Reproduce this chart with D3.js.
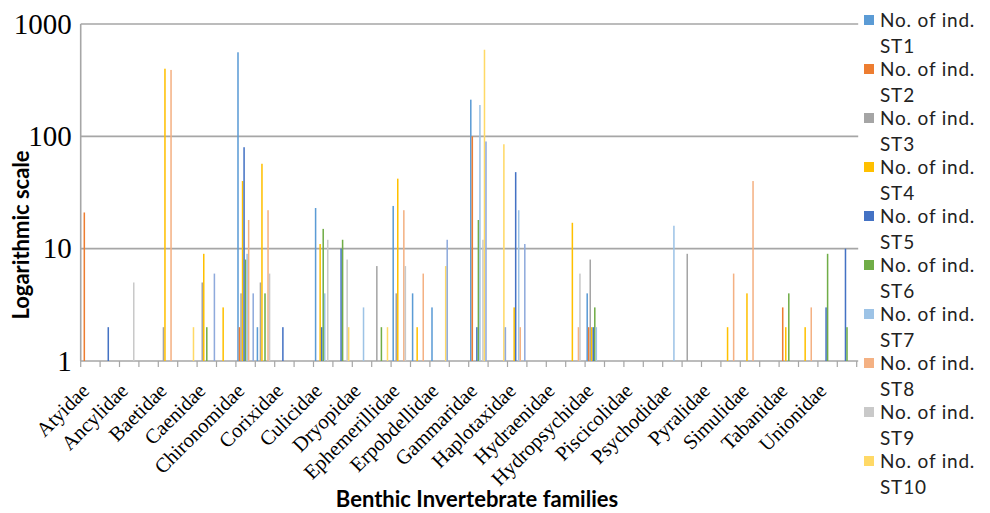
<!DOCTYPE html>
<html>
<head>
<meta charset="utf-8">
<script src="https://cdn.jsdelivr.net/npm/d3@7"></script>
<style>
  body { margin: 0; background: #ffffff; }
  svg { display: block; }
</style>
</head>
<body>
<svg id="chart" width="990" height="513"></svg>
<script>
// Category axis: 40 slots, only every other slot carries a printed label
const familyLabels = [
  "Atyidae", "", "Ancylidae", "", "Baetidae", "", "Caenidae", "", "Chironomidae", "",
  "Corixidae", "", "Culicidae", "", "Dryopidae", "", "Ephemerillidae", "", "Erpobdellidae", "",
  "Gammaridae", "", "Haplotaxidae", "", "Hydraenidae", "", "Hydropsychidae", "", "Piscicolidae", "",
  "Psychodidae", "", "Pyralidae", "", "Simulidae", "", "Tabanidae", "", "Unionidae", ""
];

const stations = ["ST1", "ST2", "ST3", "ST4", "ST5", "ST6", "ST7", "ST8", "ST9", "ST10", "ST11"];
const stationColors = ["#5b9bd5", "#ed7d31", "#a5a5a5", "#ffc000", "#4472c4", "#70ad47",
                       "#9dc3e6", "#f4b183", "#c9c9c9", "#ffd966", "#8faadc"];

const yTickValues = [1, 10, 100, 1000];

// Number of individuals per family slot (null = none recorded)
const _ = null;
const st1  = [_,_,_,_,_,_,_,_,560,2,  _,_,23,_,_,_,24,4,3,_,   212,_,_,_,_,_,4,_,_,_,  _,_,_,_,_,_,_,_,_,_];
const st2  = [21,_,_,_,_,_,_,_,2,_,   _,_,_,_,_,_,_,_,_,_,     100,_,_,_,_,_,2,_,_,_,  _,_,_,_,_,_,3,_,_,_];
const st3  = [_,_,_,_,2,_,5,_,4,5,    _,_,_,_,_,7,4,_,_,_,     _,_,_,_,_,_,8,_,_,_,    _,9,_,_,_,_,_,_,_,_];
const st4  = [_,_,_,_,400,_,9,3,40,57, _,_,11,_,_,_,42,2,_,_,  _,_,3,_,_,17,2,_,_,_,   _,_,_,2,4,_,2,2,_,_];
const st5  = [_,2,_,_,_,_,_,_,80,_,   2,_,2,10,_,_,_,_,_,_,    2,_,48,_,_,_,2,_,_,_,   _,_,_,_,_,_,_,_,3,10];
const st6  = [_,_,_,_,_,_,2,_,8,4,    _,_,15,12,_,2,_,_,_,_,   18,_,_,_,_,_,3,_,_,_,   _,_,_,_,_,_,4,_,9,2];
const st7  = [_,_,_,_,_,_,_,_,9,_,    _,_,4,_,3,_,_,_,_,_,     190,_,22,_,_,_,2,_,_,_, 16,_,_,_,_,_,_,_,_,_];
const st8  = [_,_,_,_,390,_,_,_,18,22, _,_,_,_,_,_,22,6,_,_,   _,_,2,_,_,2,_,_,_,_,    _,_,_,6,40,_,_,3,_,_];
const st9  = [_,_,5,_,_,_,_,_,_,6,    _,_,12,8,_,_,7,_,_,_,    12,_,_,_,_,6,_,_,_,_,   _,_,_,_,_,_,_,_,_,_];
const st10 = [_,_,_,_,_,2,_,_,_,_,    _,_,_,2,_,2,_,_,7,_,     590,85,_,_,_,_,_,_,_,_, _,_,_,_,_,_,_,_,_,_];
const st11 = [_,_,_,_,_,_,6,_,4,_,    _,_,_,_,_,_,_,_,12,_,    90,2,11,_,_,_,_,_,_,_,  _,_,_,_,_,_,_,_,_,_];

const seriesValues = [st1, st2, st3, st4, st5, st6, st7, st8, st9, st10, st11];

const W = 990, H = 513;
const plot = { left: 80.7, right: 856.7, top: 24, bottom: 361 };

const svg = d3.select("#chart");

const x0 = d3.scaleBand()
  .domain(d3.range(familyLabels.length))
  .range([plot.left, plot.right])
  .paddingInner(0.138)
  .paddingOuter(0.069);

const x1 = d3.scaleBand()
  .domain(d3.range(stations.length))
  .range([0, x0.bandwidth()]);

const y = d3.scaleLog()
  .domain([1, 1000])
  .range([plot.bottom, plot.top]);

const gridColor = "#a6a6a6";

// Horizontal gridlines
svg.append("g")
  .selectAll("line")
  .data(yTickValues)
  .join("line")
  .attr("x1", plot.left)
  .attr("x2", plot.right + 1.5)
  .attr("y1", d => y(d))
  .attr("y2", d => y(d))
  .attr("stroke", gridColor)
  .attr("stroke-width", 1.6);

// Vertical axis line
svg.append("line")
  .attr("x1", plot.left).attr("x2", plot.left)
  .attr("y1", plot.top).attr("y2", plot.bottom)
  .attr("stroke", gridColor).attr("stroke-width", 1.6);

// Y tick labels
const yAxis = d3.axisLeft(y)
  .tickValues(yTickValues)
  .tickFormat(d3.format("d"))
  .tickSize(0)
  .tickPadding(9);
const yg = svg.append("g")
  .attr("transform", `translate(${plot.left},0)`)
  .call(yAxis);
yg.select(".domain").remove();
yg.selectAll("text")
  .attr("font-family", "'Liberation Serif', serif")
  .attr("font-size", 29)
  .attr("fill", "#000");

// Bars
const seriesG = svg.append("g")
  .selectAll("g")
  .data(seriesValues)
  .join("g")
  .attr("fill", (d, i) => stationColors[i]);

seriesG.each(function (vals, si) {
  d3.select(this)
    .selectAll("rect")
    .data(vals.map((v, ci) => ({ v, ci })).filter(d => d.v != null && d.v > 1))
    .join("rect")
    .attr("x", d => x0(d.ci) + x1(si))
    .attr("width", x1.bandwidth())
    .attr("y", d => y(d.v))
    .attr("height", d => y(1) - y(d.v));
});

// Category axis with boundary ticks
const boundaries = d3.range(familyLabels.length + 1)
  .map(i => plot.left + i * x0.step());
svg.append("g")
  .selectAll("line")
  .data(boundaries)
  .join("line")
  .attr("x1", d => d).attr("x2", d => d)
  .attr("y1", plot.bottom).attr("y2", plot.bottom + 6)
  .attr("stroke", gridColor).attr("stroke-width", 1.2);

svg.append("g")
  .selectAll("text")
  .data(familyLabels.map((t, i) => ({ t, i })).filter(d => d.t !== ""))
  .join("text")
  .attr("transform", d => `translate(${x0(d.i) + x0.bandwidth() / 2},${plot.bottom + 31}) rotate(-45)`)
  .attr("text-anchor", "end")
  .attr("font-family", "'Liberation Serif', serif")
  .attr("font-size", 20.5)
  .attr("fill", "#000")
  .text(d => d.t);

// Axis titles
svg.append("text")
  .attr("x", 477).attr("y", 507)
  .attr("text-anchor", "middle")
  .attr("font-family", "Lato, sans-serif")
  .attr("font-weight", "bold")
  .attr("font-size", 22)
  .attr("fill", "#000")
  .text("Benthic Invertebrate families");

svg.append("text")
  .attr("transform", "translate(29,235) rotate(-90)")
  .attr("text-anchor", "middle")
  .attr("font-family", "Lato, sans-serif")
  .attr("font-weight", "bold")
  .attr("font-size", 22)
  .attr("fill", "#000")
  .text("Logarithmic scale");

// Legend: entries are listed while they fit in the available height
const legend = { x: 864, top: 20, step: 49, line: 26 };
const legendRows = Math.floor((H - legend.top - legend.line) / legend.step) + 1;
const legendItems = svg.append("g")
  .selectAll("g")
  .data(stations.slice(0, Math.min(stations.length, legendRows)))
  .join("g")
  .attr("transform", (d, i) => `translate(${legend.x},${legend.top + i * legend.step})`);

legendItems.append("rect")
  .attr("x", 0).attr("y", -5)
  .attr("width", 10).attr("height", 10)
  .attr("fill", (d, i) => stationColors[i]);

const legendFont = { family: "Lato, sans-serif", size: 19, spacing: 0.8 };

legendItems.append("text")
  .attr("x", 16).attr("y", 7)
  .attr("font-family", legendFont.family)
  .attr("font-size", legendFont.size)
  .attr("letter-spacing", legendFont.spacing)
  .attr("fill", "#222")
  .text("No. of ind.");

legendItems.append("text")
  .attr("x", 16).attr("y", 7 + legend.line)
  .attr("font-family", legendFont.family)
  .attr("font-size", legendFont.size)
  .attr("letter-spacing", legendFont.spacing)
  .attr("fill", "#222")
  .text(d => d);
</script>
</body>
</html>
